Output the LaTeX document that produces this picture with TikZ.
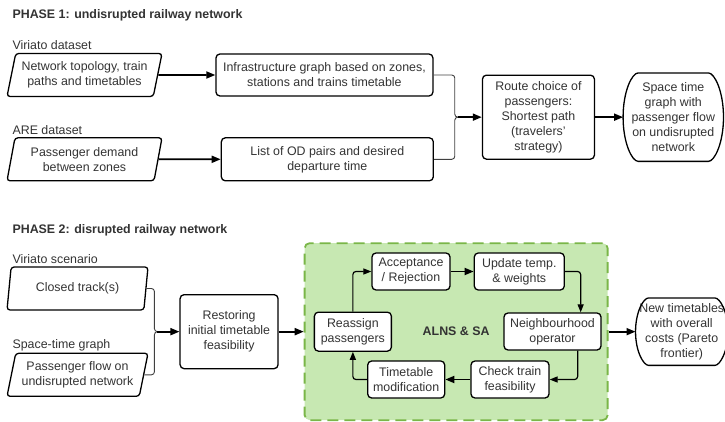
\documentclass[tikz,border=0pt]{standalone}
\usepackage{fontspec}
\setmainfont{Liberation Sans}
\usetikzlibrary{positioning}
\usetikzlibrary{calc}
\usetikzlibrary{shapes.geometric}
\usetikzlibrary{arrows.meta}

\definecolor{alnsfill}{RGB}{199,232,178}
\definecolor{alnsline}{RGB}{122,182,72}
\definecolor{txtgray}{RGB}{51,51,51}

\begin{document}
\begin{tikzpicture}[x=1pt, y=-1pt,
    every node/.style={font=\fontsize{12.4}{15}\selectfont, text=txtgray, align=center},
    procnode/.style={rectangle, draw=black, line width=1.3pt, rounded corners=4pt, fill=white, inner sep=1pt},
    datanode/.style={trapezium, trapezium left angle=73, trapezium right angle=107, trapezium stretches body,
        draw=black, line width=1.3pt, rounded corners=3pt, inner sep=1pt, minimum height=43pt},
    termnode/.style={rectangle, inner sep=0pt},
    termline/.style={line width=1.3pt, black},
    alnsbox/.style={rectangle, draw=alnsline, fill=alnsfill, line width=1.8pt, dash pattern=on 11pt off 6pt, rounded corners=5pt},
    titlelabel/.style={anchor=west, font=\fontsize{12.4}{15}\selectfont\bfseries},
    srclabel/.style={anchor=west},
    flow/.style={-{Triangle[length=9pt, width=7pt]}, line width=1.8pt, black},
    loopflow/.style={-{Triangle[length=8pt, width=6pt]}, line width=1.2pt, black, rounded corners=3pt},
    bracelink/.style={line width=0.9pt, black!75, rounded corners=3pt}]
    \useasboundingbox (0,0) rectangle (725,422);

    % phase 1
    \node[titlelabel] (title1) at (9,15) {PHASE 1: undisrupted railway network};
    \node[srclabel] (viriato1) at (9,45) {Viriato dataset};
    \node[datanode, minimum width=155pt] (net) at (84.5,75) {Network topology, train\\paths and timetables};
    \node[procnode, minimum width=217pt, minimum height=42pt, right=57pt of net] (infra) {Infrastructure graph based on zones,\\stations and trains timetable};
    \node[srclabel] (are) at (9,130) {ARE dataset};
    \node[datanode, minimum width=155pt, below=40pt of net] (demand) {Passenger demand\\between zones};
    \node[procnode, minimum width=212pt, minimum height=43pt, right=62pt of demand] (odlist) {List of OD pairs and desired\\departure time};
    \coordinate (join1) at ($(infra.east)!0.5!(odlist.east)+(24pt,0pt)$);
    \node[procnode, minimum width=112pt, minimum height=84pt, right=24pt of join1] (route) {Route choice of\\passengers:\\Shortest path\\(travelers'\\strategy)};
    \node[termnode, minimum width=100pt, minimum height=88pt, right=28pt of route] (stgraph) {Space time\\graph with\\passenger flow\\on undisrupted\\network};

    \draw[flow] (net) -- (infra);
    \draw[flow] (demand) -- (odlist);
    \draw[bracelink] (infra.east) -| ([xshift=-3pt]join1) -- (join1);
    \draw[bracelink] (odlist.east) -| ([xshift=-3pt]join1) -- (join1);
    \draw[flow] (join1) -- (route);
    \draw[flow] (route) -- (stgraph);

    % phase 2
    \node[titlelabel] (title2) at (9,230) {PHASE 2: disrupted railway network};
    \node[srclabel] (viriato2) at (9,259) {Viriato scenario};
    \node[datanode, minimum width=141pt] (closed) at (77.5,288.5) {Closed track(s)};
    \node[srclabel] (stlabel) at (9,345) {Space-time graph};
    \node[datanode, minimum width=141pt, below=42pt of closed] (paxflow) {Passenger flow on\\undisrupted network};
    \coordinate (join2) at ($(closed.east)!0.5!(paxflow.east)+(12pt,0pt)$);
    \node[procnode, minimum width=98pt, minimum height=74pt, right=22pt of join2] (restore) {Restoring\\initial timetable\\feasibility};
    \node[alnsbox, minimum width=303pt, minimum height=177pt, right=25pt of restore,
        font=\fontsize{12.4}{15}\selectfont\bfseries] (alns) {ALNS \& SA};
    \node[procnode, minimum width=77pt, minimum height=39pt, right=10pt of alns.west] (reassign) {Reassign\\passengers};
    \node[procnode, minimum width=78pt, minimum height=37pt] (accept) at (411,271.5) {Acceptance\\/ Rejection};
    \node[procnode, minimum width=90pt, minimum height=37pt, right=23pt of accept] (update) {Update temp.\\\& weights};
    \node[procnode, minimum width=97pt, minimum height=37pt] (neigh) at (552.5,331.5) {Neighbourhood\\operator};
    \node[procnode, minimum width=78pt, minimum height=37pt] (check) at (510,379.5) {Check train\\feasibility};
    \node[procnode, minimum width=77pt, minimum height=37pt, left=25pt of check] (tmod) {Timetable\\modification};
    \node[termnode, minimum width=92pt, minimum height=67pt, right=27pt of alns] (newtt) {New timetables\\with overall\\costs (Pareto\\frontier)};

    \draw[bracelink] (closed.east) -| ([xshift=-3pt]join2) -- (join2);
    \draw[bracelink] (paxflow.east) -| ([xshift=-3pt]join2) -- (join2);
    \draw[flow] (join2) -- (restore);
    \draw[flow] (restore) -- (alns);
    \draw[flow] (alns) -- (newtt);

    \draw[loopflow] (reassign) |- (accept);
    \draw[flow] (accept) -- (update);
    \draw[loopflow] (update.east) -| ($(neigh.north east)+(-21pt,0pt)$);
    \draw[loopflow] ($(neigh.south east)+(-24pt,0pt)$) |- (check.east);
    \draw[flow] (check) -- (tmod);
    \draw[loopflow] (tmod) -| (reassign);

    % terminator outlines
    \foreach \n/\b/\c/\v in {stgraph/15/9/26, newtt/13/8/20}
        \draw[termline] ([xshift=\b pt]\n.north west) -- ([xshift=-\b pt]\n.north east)
            .. controls ([xshift=-\c pt]\n.north east) and ([yshift=\v pt]\n.east) .. (\n.east)
            .. controls ([yshift=-\v pt]\n.east) and ([xshift=-\c pt]\n.south east) .. ([xshift=-\b pt]\n.south east)
            -- ([xshift=\b pt]\n.south west)
            .. controls ([xshift=\c pt]\n.south west) and ([yshift=-\v pt]\n.west) .. (\n.west)
            .. controls ([yshift=\v pt]\n.west) and ([xshift=\c pt]\n.north west) .. cycle;
\end{tikzpicture}
\end{document}
